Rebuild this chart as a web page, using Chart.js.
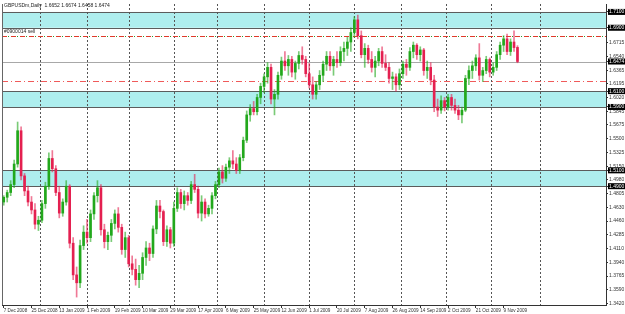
<html><head><script src="https://cdn.jsdelivr.net/npm/chart.js@4.4.3/dist/chart.umd.min.js"></script>
<style>body{margin:0;background:#fff}</style></head>
<body>
<canvas id="mychart" width="625" height="314"></canvas>
<script>
symbol = "GBPUSDm,Daily"
// one candle = about two MT4 daily bars
opens = [
 1.470,1.476,1.482,1.492,1.518,1.560,1.503,1.484,1.470,1.460,
 1.442,1.447,1.468,1.490,1.525,1.512,1.482,1.456,1.470,1.490,
 1.418,1.378,1.368,1.415,1.432,1.425,1.455,1.478,1.488,1.435,
 1.420,1.428,1.443,1.455,1.438,1.410,1.425,1.392,1.385,1.372,
 1.380,1.400,1.412,1.405,1.436,1.465,1.458,1.420,1.435,1.418,
 1.462,1.482,1.468,1.478,1.472,1.492,1.486,1.456,1.470,1.455,
 1.462,1.478,1.492,1.508,1.500,1.514,1.522,1.518,1.510,1.526,
 1.548,1.580,1.588,1.584,1.602,1.616,1.628,1.640,1.600,1.606,
 1.630,1.648,1.642,1.650,1.634,1.645,1.655,1.650,1.632,1.618,
 1.606,1.618,1.630,1.644,1.654,1.642,1.650,1.646,1.660,1.664,
 1.672,1.684,1.700,1.680,1.656,1.664,1.650,1.640,1.648,1.660,
 1.645,1.640,1.626,1.628,1.618,1.632,1.644,1.640,1.660,1.668,
 1.656,1.662,1.636,1.640,1.624,1.590,1.586,1.598,1.590,1.602,
 1.592,1.586,1.580,1.586,1.626,1.636,1.642,1.652,1.630,1.636,
 1.650,1.634,1.640,1.656,1.668,1.676,1.660,1.672,1.6652]
highs = [
 1.478,1.485,1.497,1.523,1.571,1.565,1.506,1.490,1.477,1.468,
 1.452,1.472,1.495,1.532,1.535,1.516,1.490,1.474,1.497,1.492,
 1.425,1.388,1.422,1.440,1.448,1.460,1.482,1.497,1.492,1.442,
 1.432,1.448,1.460,1.463,1.442,1.432,1.428,1.402,1.398,1.390,
 1.406,1.420,1.418,1.440,1.472,1.472,1.460,1.440,1.438,1.470,
 1.488,1.486,1.484,1.482,1.496,1.505,1.490,1.478,1.474,1.466,
 1.482,1.496,1.513,1.516,1.518,1.526,1.535,1.526,1.530,1.552,
 1.585,1.593,1.597,1.606,1.620,1.632,1.646,1.644,1.612,1.634,
 1.653,1.660,1.655,1.654,1.648,1.660,1.666,1.654,1.645,1.628,
 1.622,1.636,1.648,1.660,1.660,1.654,1.660,1.666,1.672,1.678,
 1.690,1.704,1.706,1.686,1.670,1.668,1.660,1.654,1.664,1.666,
 1.656,1.646,1.634,1.632,1.638,1.648,1.650,1.665,1.672,1.670,
 1.666,1.664,1.648,1.646,1.630,1.600,1.604,1.602,1.606,1.606,
 1.600,1.592,1.590,1.630,1.642,1.648,1.656,1.670,1.640,1.654,
 1.652,1.646,1.660,1.672,1.680,1.682,1.676,1.686,1.6674]
lows = [
 1.466,1.470,1.478,1.488,1.514,1.498,1.478,1.465,1.455,1.436,
 1.434,1.444,1.462,1.486,1.508,1.478,1.450,1.452,1.466,1.412,
 1.372,1.350,1.362,1.410,1.418,1.420,1.448,1.470,1.428,1.412,
 1.410,1.420,1.436,1.432,1.404,1.400,1.388,1.378,1.365,1.362,
 1.372,1.390,1.396,1.400,1.430,1.450,1.415,1.414,1.412,1.414,
 1.458,1.462,1.460,1.466,1.468,1.482,1.450,1.446,1.450,1.452,
 1.455,1.474,1.488,1.494,1.496,1.506,1.512,1.506,1.506,1.522,
 1.545,1.572,1.580,1.580,1.594,1.608,1.620,1.594,1.580,1.600,
 1.625,1.636,1.630,1.628,1.625,1.638,1.644,1.628,1.614,1.600,
 1.600,1.612,1.622,1.636,1.636,1.630,1.640,1.642,1.648,1.655,
 1.660,1.678,1.676,1.652,1.640,1.645,1.634,1.628,1.642,1.640,
 1.636,1.620,1.612,1.610,1.612,1.626,1.630,1.636,1.652,1.650,
 1.648,1.630,1.626,1.618,1.584,1.578,1.582,1.585,1.586,1.586,
 1.582,1.574,1.570,1.584,1.618,1.626,1.636,1.624,1.622,1.632,
 1.628,1.630,1.636,1.650,1.660,1.656,1.655,1.660,1.6458]
closes = [
 1.476,1.482,1.492,1.518,1.560,1.503,1.484,1.470,1.460,1.442,
 1.447,1.468,1.490,1.525,1.512,1.482,1.456,1.470,1.490,1.418,
 1.378,1.368,1.415,1.432,1.425,1.455,1.478,1.488,1.435,1.420,
 1.428,1.443,1.455,1.438,1.410,1.425,1.392,1.385,1.372,1.380,
 1.400,1.412,1.405,1.436,1.465,1.458,1.420,1.435,1.418,1.462,
 1.482,1.468,1.478,1.472,1.492,1.486,1.456,1.470,1.455,1.462,
 1.478,1.492,1.508,1.500,1.514,1.522,1.518,1.510,1.526,1.548,
 1.580,1.588,1.584,1.602,1.616,1.628,1.640,1.600,1.606,1.630,
 1.648,1.642,1.650,1.634,1.645,1.655,1.650,1.632,1.618,1.606,
 1.618,1.630,1.644,1.654,1.642,1.650,1.646,1.660,1.664,1.672,
 1.684,1.700,1.680,1.656,1.664,1.650,1.640,1.648,1.660,1.645,
 1.640,1.626,1.628,1.618,1.632,1.644,1.640,1.660,1.668,1.656,
 1.662,1.636,1.640,1.624,1.590,1.586,1.598,1.590,1.602,1.592,
 1.586,1.580,1.586,1.626,1.636,1.642,1.652,1.630,1.636,1.650,
 1.634,1.640,1.656,1.668,1.676,1.660,1.672,1.665,1.6474]

dateLabels = ["7 Dec 2008","25 Dec 2008","13 Jan 2009","1 Feb 2009","19 Feb 2009","10 Mar 2009",
  "29 Mar 2009","17 Apr 2009","6 May 2009","25 May 2009","12 Jun 2009","1 Jul 2009","20 Jul 2009",
  "7 Aug 2009","26 Aug 2009","14 Sep 2009","2 Oct 2009","21 Oct 2009","9 Nov 2009"]
labelEvery = 8
totalSlots = 174
monthStarts = [10.5, 24, 36, 49, 61.5, 75, 88, 101, 114.5, 127.5, 140.5, 154.5]

zoneLow = [1.49, 1.59, 1.69]
zoneHigh = [1.51, 1.61, 1.71]
priceTicks = [1.6715,1.6540,1.6365,1.6195,1.6020,1.5845,1.5675,1.5500,1.5325,1.5150,
  1.4980,1.4805,1.4630,1.4460,1.4285,1.4110,1.3940,1.3765,1.3590,1.3420]
boxedTicks = [1.7100, 1.6900, 1.6474, 1.6100, 1.5900, 1.5100, 1.4900]
sellLevel = 1.68
sellText = "#0900014 sell"
stopLevel = 1.623
lastPrice = closes[closes.length-1]

UP = '#22a81c'; DOWN = '#e42050'
UPW = 'rgba(34,168,28,0.6)'; DOWNW = 'rgba(228,32,80,0.6)'
FONT = 'Liberation Sans'

xLabels = []
for (i = 0; i < totalSlots; i++) {
  xLabels.push(i % labelEvery == 0 && dateLabels[i/labelEvery] ? dateLabels[i/labelEvery] : "")
}
isUp = closes.map((c, i) => c >= opens[i])

function hline(ctx, a, yy) {
  yy = Math.round(yy) + 0.5
  ctx.beginPath(); ctx.moveTo(a.left, yy); ctx.lineTo(a.right, yy); ctx.stroke()
}

overlay = {
  id: 'overlay',
  beforeDatasetsDraw(chart) {
    const ctx = chart.ctx, a = chart.chartArea, x = chart.scales.x, y = chart.scales.y
    ctx.save()
    for (let k = 0; k < zoneLow.length; k++) {
      const t = y.getPixelForValue(zoneHigh[k]), b = y.getPixelForValue(zoneLow[k])
      ctx.fillStyle = '#aeeeee'
      ctx.fillRect(a.left, t, a.right - a.left, b - t)
      ctx.strokeStyle = '#5c5c5c'; ctx.lineWidth = 1; ctx.setLineDash([])
      hline(ctx, a, t); hline(ctx, a, b)
    }
    // month separators
    ctx.strokeStyle = '#555'; ctx.setLineDash([2, 2])
    monthStarts.forEach(m => {
      const px = Math.round(x.getPixelForValue(m)) + 0.5
      ctx.beginPath(); ctx.moveTo(px, a.top); ctx.lineTo(px, a.bottom); ctx.stroke()
    })
    // last price
    ctx.setLineDash([]); ctx.strokeStyle = '#a8a8a8'
    hline(ctx, a, y.getPixelForValue(lastPrice))
    // stop level
    ctx.strokeStyle = '#f05a5a'; ctx.setLineDash([6, 3, 1, 3])
    hline(ctx, a, y.getPixelForValue(stopLevel))
    // sell order line
    ctx.strokeStyle = '#e03a2a'; ctx.setLineDash([5, 4])
    hline(ctx, a, y.getPixelForValue(sellLevel))
    ctx.strokeStyle = '#2a9a2a'; ctx.setLineDash([1, 8]); ctx.lineDashOffset = -6
    hline(ctx, a, y.getPixelForValue(sellLevel))
    ctx.lineDashOffset = 0; ctx.setLineDash([])
    ctx.strokeStyle = '#666'
    ctx.beginPath(); ctx.moveTo(a.left + 0.5, a.top); ctx.lineTo(a.left + 0.5, a.bottom); ctx.stroke()
    ctx.restore()
  },
  afterDraw(chart) {
    const ctx = chart.ctx, a = chart.chartArea, y = chart.scales.y
    ctx.save()
    ctx.font = '5px "' + FONT + '"'; ctx.fillStyle = '#222'; ctx.textBaseline = 'alphabetic'
    const n = closes.length - 1
    ctx.fillText(symbol + "  " + [opens[n], highs[n], lows[n], closes[n]].map(v => v.toFixed(4)).join(" "), a.left + 2, 7)
    ctx.fillText(sellText, a.left + 2, y.getPixelForValue(sellLevel) - 3)
    ctx.restore()
  }
}

config = {
  type: 'bar',
  data: {
    labels: xLabels,
    datasets: [
      { label: 'wick', data: lows.map((l, i) => [l, highs[i]]),
        backgroundColor: isUp.map(u => u ? UPW : DOWNW), barThickness: 1, grouped: false, order: 2 },
      { label: 'body', data: opens.map((o, i) => [o, closes[i]]),
        backgroundColor: isUp.map(u => u ? UP : DOWN), barThickness: 2, minBarLength: 1, grouped: false, order: 1 }
    ]
  },
  options: {
    responsive: false, animation: false,
    layout: { padding: { left: 2, top: 1, right: 0, bottom: 0 } },
    plugins: { legend: { display: false }, tooltip: { enabled: false } },
    scales: {
      x: {
        offset: true,
        grid: { offset: false, drawOnChartArea: false, tickLength: 3,
          color: c => (c.tick && c.tick.label) ? '#333' : 'rgba(0,0,0,0)' },
        border: { color: '#333' },
        ticks: { autoSkip: false, maxRotation: 0, minRotation: 0, align: 'start', padding: 0,
          font: { size: 4.6, family: FONT }, color: '#333' },
        afterFit: s => { s.height = 9 }
      },
      y: {
        position: 'right', min: 1.34, max: 1.72,
        afterBuildTicks: s => { s.ticks = priceTicks.concat(boxedTicks).map(v => ({ value: v })) },
        grid: { drawOnChartArea: false, tickLength: 2, color: '#333' },
        border: { color: '#333' },
        ticks: { padding: 1, font: { size: 5, family: FONT },
          callback: v => v.toFixed(4),
          color: c => boxedTicks.includes(c.tick.value) ? '#fff' : '#333',
          showLabelBackdrop: c => boxedTicks.includes(c.tick.value),
          backdropColor: '#000', backdropPadding: { x: 1, y: 0 } },
        afterFit: s => { s.width = 19 }
      }
    }
  },
  plugins: [overlay]
}
new Chart(document.querySelector("#mychart"), config)
</script>
</body></html>
